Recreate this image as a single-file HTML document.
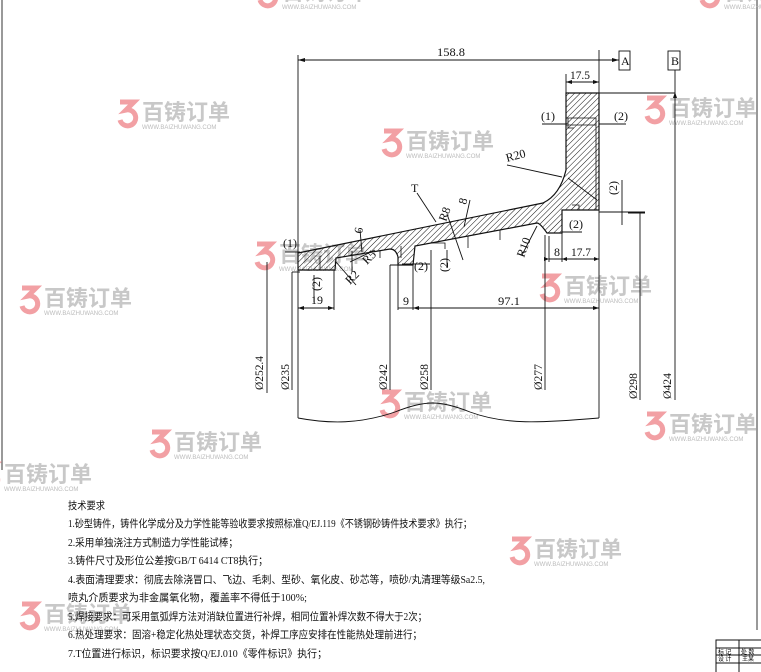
<!DOCTYPE html>
<html><head><meta charset="utf-8"><style>
html,body{margin:0;padding:0;background:#fff;}
svg{display:block;}
.t{font-family:"Liberation Serif","Noto Serif CJK SC",serif;font-size:12px;fill:#111;}
.c{font-family:"Liberation Serif","Noto Sans CJK SC",sans-serif;font-size:10.5px;fill:#111;}
.wm{font-family:"Liberation Sans","Noto Sans CJK SC",sans-serif;font-weight:bold;font-size:22px;fill:#c8c8c8;}
.wms{font-family:"Liberation Sans",sans-serif;font-size:6px;fill:#bbb;}
</style></head><body>
<svg width="761" height="672" viewBox="0 0 761 672" xmlns="http://www.w3.org/2000/svg">
<defs>
<pattern id="h" width="4" height="4" patternUnits="userSpaceOnUse" patternTransform="rotate(45)">
<line x1="0" y1="0" x2="0" y2="4" stroke="#111" stroke-width="1"/>
</pattern>
<g id="logo">
<path d="M2 4 H16 L8 12 A8 8 0 1 1 2 22" fill="none" stroke="#f2a0a4" stroke-width="5"/>
<text x="24" y="22" class="wm">百铸订单</text>
<text x="24" y="31" class="wms">WWW.BAIZHUWANG.COM</text>
</g>
</defs>
<rect width="761" height="672" fill="#fff"/>
<line x1="2" y1="0" x2="2" y2="470" stroke="#333" stroke-width="1"/>
<line x1="757" y1="0" x2="757" y2="630" stroke="#333" stroke-width="1"/>

<use href="#logo" x="118" y="98"/>
<use href="#logo" x="382" y="127"/>
<use href="#logo" x="645" y="94"/>
<use href="#logo" x="255" y="240"/>
<use href="#logo" x="20" y="284"/>
<use href="#logo" x="540" y="272"/>
<use href="#logo" x="150" y="428"/>
<use href="#logo" x="380" y="388"/>
<use href="#logo" x="645" y="410"/>
<use href="#logo" x="510" y="535"/>
<use href="#logo" x="-20" y="460"/>
<use href="#logo" x="20" y="600"/>
<use href="#logo" x="258" y="-22"/>
<use href="#logo" x="700" y="-22"/>

<path d="M298 253 L543 203 Q560 195 566 170 L566 93 L599 93 L599 210 L562 210 L562 233 L547 233 Q540 223 537 223 L415 246 L413 265 L398 265 L398 257 Q396 249 390 249 L336 258 L335 270 L298 270 Z" fill="url(#h)" stroke="#111" stroke-width="1.2"/>
<path d="M566 118 H596 V210 M566 125 L596 125 M568 178 L597 200 M568 118 V128 H574" fill="none" stroke="#111" stroke-width="0.8"/>
<path d="M401 246 V258 M380 250 V258 M320 256 V270 M500 230 V240 M468 236 V248 M430 243 H445 V249 M572 205 H579 V210" fill="none" stroke="#111" stroke-width="0.8"/>

<g stroke="#111" stroke-width="0.9" fill="none">
<line x1="298" y1="60" x2="619" y2="60"/>
<line x1="298" y1="55" x2="298" y2="253"/>
<line x1="599" y1="50" x2="599" y2="418"/>
<rect x="619" y="51" width="11" height="19"/>
<rect x="668" y="51" width="12" height="19"/>
<line x1="675" y1="70" x2="675" y2="400"/>
<line x1="566" y1="93" x2="675" y2="93"/>
<line x1="566" y1="74" x2="566" y2="93"/>
<line x1="566" y1="82" x2="599" y2="82"/>
<line x1="542" y1="124" x2="566" y2="124"/>
<line x1="599" y1="124" x2="626" y2="124"/>
<line x1="599" y1="212" x2="645" y2="212"/>
<line x1="622" y1="180" x2="622" y2="225"/>
<line x1="562" y1="232" x2="582" y2="232"/>
<line x1="549" y1="236" x2="549" y2="262"/>
<line x1="562" y1="233" x2="562" y2="262"/>
<line x1="549" y1="259" x2="599" y2="259"/>
<line x1="640" y1="213" x2="640" y2="400"/>
<line x1="628" y1="213" x2="645" y2="213"/>
<line x1="545" y1="235" x2="545" y2="390"/>
<line x1="431" y1="250" x2="431" y2="390"/>
<line x1="390" y1="265" x2="390" y2="390"/>
<line x1="390" y1="265" x2="413" y2="265"/>
<line x1="413" y1="265" x2="413" y2="310"/>
<line x1="398" y1="265" x2="398" y2="310"/>
<line x1="292" y1="272" x2="292" y2="390"/>
<line x1="267" y1="262" x2="267" y2="393"/>
<line x1="292" y1="272" x2="300" y2="272"/>
<line x1="334" y1="270" x2="334" y2="310"/>
<line x1="298" y1="308" x2="334" y2="308"/>
<line x1="398" y1="308" x2="413" y2="308"/>
<line x1="413" y1="308" x2="599" y2="308"/>
<line x1="298" y1="270" x2="298" y2="418"/>
<path d="M298 418 C330 424 360 424 395 412 C425 400 440 400 470 412 C505 425 540 423 599 418"/>
<line x1="417" y1="193" x2="436" y2="222"/>
<line x1="507" y1="165" x2="562" y2="177"/>
<line x1="522" y1="255" x2="537" y2="226"/>
<line x1="447" y1="214" x2="463" y2="260"/>
<line x1="470" y1="200" x2="464" y2="227"/>
<line x1="360" y1="230" x2="362" y2="252"/>
<line x1="336" y1="262" x2="356" y2="285"/>
<line x1="352" y1="251" x2="352" y2="272"/>
<line x1="350" y1="262" x2="375" y2="250"/>
<line x1="285" y1="252" x2="300" y2="252"/>
<line x1="314" y1="275" x2="314" y2="302"/>
<line x1="447" y1="250" x2="447" y2="268"/>
<line x1="402" y1="264" x2="430" y2="264"/>
</g>
<g fill="#111">
<path d="M298 60 l7 -2 v4z M619 60 l-7 -2 v4z M599 82 l-6 -2 v4z M566 82 l6 -2 v4z M675 92 l-2 6 h4z M298 308 l6 -2 v4z M334 308 l-6 -2 v4z M413 308 l6 -2 v4z M599 308 l-6 -2 v4z M549 259 l-5 -2 v4z M562 259 l5 -2 v4z M599 259 l-5 -2 v4z"/>
</g>

<text class="t" x="437" y="56" textLength="28" lengthAdjust="spacingAndGlyphs">158.8</text>
<text class="t" x="621" y="65" font-size="10">A</text>
<text class="t" x="671" y="65" font-size="10">B</text>
<text class="t" x="570" y="79" textLength="20" lengthAdjust="spacingAndGlyphs">17.5</text>
<text class="t" x="541" y="120">(1)</text>
<text class="t" x="614" y="120">(2)</text>
<text class="t" x="507" y="162" transform="rotate(-15 507 162)">R20</text>
<text class="t" x="411" y="192">T</text>
<text class="t" x="446" y="222" transform="rotate(-70 446 222)">R8</text>
<text class="t" x="466" y="205" transform="rotate(-75 466 205)">8</text>
<text class="t" x="362" y="234" transform="rotate(-80 362 234)">6</text>
<text class="t" x="617" y="195" transform="rotate(-90 617 195)">(2)</text>
<text class="t" x="569" y="228">(2)</text>
<text class="t" x="524" y="258" transform="rotate(-70 524 258)">R10</text>
<text class="t" x="554" y="256">8</text>
<text class="t" x="571" y="256" textLength="20" lengthAdjust="spacingAndGlyphs">17.7</text>
<text class="t" x="414" y="270">(2)</text>
<text class="t" x="448" y="272" transform="rotate(-90 448 272)">(2)</text>
<text class="t" x="283" y="247">(1)</text>
<text class="t" x="320" y="291" transform="rotate(-90 320 291)">(2)</text>
<text class="t" x="350" y="285" transform="rotate(-45 350 285)">R2</text>
<text class="t" x="367" y="265" transform="rotate(-45 367 265)">R5</text>
<text class="t" x="311" y="304">19</text>
<text class="t" x="403" y="305">9</text>
<text class="t" x="498" y="305" textLength="22" lengthAdjust="spacingAndGlyphs">97.1</text>
<text class="t" x="263" y="390" transform="rotate(-90 263 390)" textLength="34" lengthAdjust="spacingAndGlyphs">Ø252.4</text>
<text class="t" x="289" y="390" transform="rotate(-90 289 390)" textLength="26" lengthAdjust="spacingAndGlyphs">Ø235</text>
<text class="t" x="387" y="390" transform="rotate(-90 387 390)" textLength="26" lengthAdjust="spacingAndGlyphs">Ø242</text>
<text class="t" x="428" y="390" transform="rotate(-90 428 390)" textLength="26" lengthAdjust="spacingAndGlyphs">Ø258</text>
<text class="t" x="542" y="390" transform="rotate(-90 542 390)" textLength="26" lengthAdjust="spacingAndGlyphs">Ø277</text>
<text class="t" x="637" y="399" transform="rotate(-90 637 399)" textLength="26" lengthAdjust="spacingAndGlyphs">Ø298</text>
<text class="t" x="671" y="399" transform="rotate(-90 671 399)" textLength="26" lengthAdjust="spacingAndGlyphs">Ø424</text>

<text class="c" x="68" y="509" textLength="37" lengthAdjust="spacingAndGlyphs">技术要求</text>
<text class="c" x="68" y="527" textLength="404" lengthAdjust="spacingAndGlyphs">1.砂型铸件，铸件化学成分及力学性能等验收要求按照标准Q/EJ.119《不锈钢砂铸件技术要求》执行；</text>
<text class="c" x="68" y="546" textLength="170" lengthAdjust="spacingAndGlyphs">2.采用单独浇注方式制造力学性能试棒；</text>
<text class="c" x="68" y="564" textLength="200" lengthAdjust="spacingAndGlyphs">3.铸件尺寸及形位公差按GB/T 6414 CT8执行；</text>
<text class="c" x="68" y="583" textLength="417" lengthAdjust="spacingAndGlyphs">4.表面清理要求：彻底去除浇冒口、飞边、毛刺、型砂、氧化皮、砂芯等，喷砂/丸清理等级Sa2.5,</text>
<text class="c" x="68" y="601" textLength="239" lengthAdjust="spacingAndGlyphs">喷丸介质要求为非金属氧化物，覆盖率不得低于100%;</text>
<text class="c" x="68" y="620" textLength="359" lengthAdjust="spacingAndGlyphs">5.焊接要求：可采用氩弧焊方法对消缺位置进行补焊，相同位置补焊次数不得大于2次；</text>
<text class="c" x="68" y="638" textLength="354" lengthAdjust="spacingAndGlyphs">6.热处理要求：固溶+稳定化热处理状态交货，补焊工序应安排在性能热处理前进行；</text>
<text class="c" x="68" y="657" textLength="259" lengthAdjust="spacingAndGlyphs">7.T位置进行标识，标识要求按Q/EJ.010《零件标识》执行；</text>

<g stroke="#111" stroke-width="1" fill="none">
<rect x="716" y="640" width="50" height="40"/>
<line x1="739" y1="640" x2="739" y2="672"/>
<line x1="716" y1="648" x2="761" y2="648"/>
<line x1="716" y1="655" x2="761" y2="655"/>
<line x1="716" y1="663" x2="761" y2="663"/>
</g>
<text x="718" y="654" font-size="6" font-family="Noto Sans CJK SC, sans-serif">标 记</text>
<text x="741" y="654" font-size="6" font-family="Noto Sans CJK SC, sans-serif">处 数</text>
<text x="718" y="661" font-size="6" font-family="Noto Sans CJK SC, sans-serif">设 计</text>
<text x="742" y="661" font-size="6" font-family="Noto Sans CJK SC, sans-serif">王某</text>
</svg>
</body></html>
